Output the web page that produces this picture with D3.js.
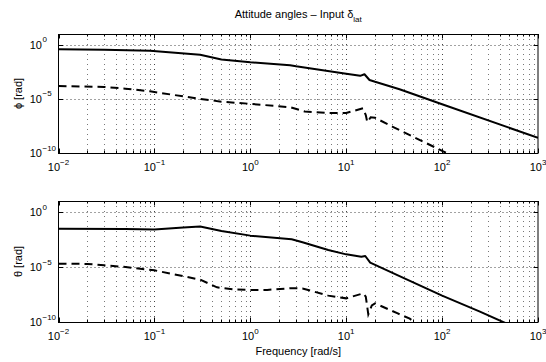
<!DOCTYPE html>
<html>
<head>
<meta charset="utf-8">
<script src="https://cdn.jsdelivr.net/npm/d3@7"></script>
<style>
  body { margin: 0; background: #fff; }
  svg { display: block; font-family: "Liberation Sans", Arial, sans-serif; }
</style>
</head>
<body>
<div id="chart-container"></div>
<script>
// frequency response data (rad/s -> rad)
const phiSolidFreq = [0.01, 0.03, 0.09, 0.3, 0.5, 1, 2.6, 3, 10, 14, 15.5, 17.5, 20, 36, 100, 1000];
const phiSolidMag = [3.98e-1, 3.55e-1, 2.82e-1, 1.2e-1, 4.47e-2, 2.4e-2, 1.32e-2, 1.05e-2, 2.09e-3, 1.35e-3, 1.91e-3, 5.6e-4, 3.8e-4, 7.9e-5, 3.2e-6, 2.5e-9];

const phiDashFreq = [0.01, 0.03, 0.05, 0.09, 0.3, 0.5, 1, 2.6, 3.7, 6.5, 10, 15, 16, 16.6, 18, 20, 31, 100, 130];
const phiDashMag = [1.58e-4, 1.26e-4, 8.9e-5, 5.0e-5, 1.0e-5, 5.6e-6, 3.5e-6, 1.7e-6, 6.8e-7, 5.0e-7, 5.0e-7, 1.38e-6, 3.2e-7, 7.1e-8, 2.0e-7, 1.78e-7, 2.5e-8, 1.58e-10, 5.0e-11];

const thetaSolidFreq = [0.01, 0.05, 0.1, 0.2, 0.3, 0.5, 1, 2.7, 3.5, 6.5, 10, 14.4, 15.8, 17.8, 36, 100, 248, 460];
const thetaSolidMag = [3.0e-2, 2.8e-2, 2.6e-2, 3.8e-2, 4.8e-2, 1.9e-2, 7.1e-3, 3.3e-3, 1.78e-3, 3.5e-4, 1.41e-4, 8.7e-5, 1.0e-4, 2.5e-5, 1.5e-6, 2.5e-8, 8.7e-10, 7.9e-11];

const thetaDashFreq = [0.01, 0.02, 0.03, 0.05, 0.1, 0.3, 0.45, 0.7, 1, 1.5, 2.7, 3.5, 6.5, 10, 15, 16, 17, 18.5, 20, 34, 46, 55];
const thetaDashMag = [2.0e-5, 1.9e-5, 1.41e-5, 1.0e-5, 5.0e-6, 7.1e-7, 1.41e-7, 8.9e-8, 8.3e-8, 8.3e-8, 1.2e-7, 1.12e-7, 2.5e-8, 1.41e-8, 4.0e-8, 2.0e-8, 5.0e-10, 3.2e-9, 5.0e-9, 6.3e-10, 2.0e-10, 6.3e-11];

const xTickExp = [-2, -1, 0, 1, 2, 3];
const yTickExp = [-10, -5, 0];

const W = 546, H = 362;
const xLeft = 58.5, xRight = 538;

const svg = d3.select("#chart-container")
  .append("svg")
  .attr("width", W)
  .attr("height", H);

const x = d3.scaleLog().domain([1e-2, 1e3]).range([xLeft, xRight]);

// minor grid positions 2..9 per decade
const minorX = [];
for (let e = -2; e < 3; e++) {
  for (let m = 2; m <= 9; m++) minorX.push(m * Math.pow(10, e));
}

const zip = (f, m) => f.map((d, i) => ({ f: d, m: m[i] }));

const panels = [
  { id: "p1", top: 34, bottom: 153, label: "\u03D5 [rad]",
    solid: zip(phiSolidFreq, phiSolidMag), dash: zip(phiDashFreq, phiDashMag) },
  { id: "p2", top: 201, bottom: 322, label: "\u03B8 [rad]",
    solid: zip(thetaSolidFreq, thetaSolidMag), dash: zip(thetaDashFreq, thetaDashMag) },
];

const defs = svg.append("defs");

panels.forEach((p) => {
  const y = d3.scaleLog().domain([1e-10, 1e1]).range([p.bottom, p.top]);
  const g = svg.append("g");

  defs.append("clipPath").attr("id", "clip-" + p.id)
    .append("rect")
    .attr("x", xLeft).attr("y", p.top)
    .attr("width", xRight - xLeft).attr("height", p.bottom - p.top);

  // dotted grid
  g.selectAll(".gx-minor").data(minorX).enter().append("line")
    .attr("x1", (d) => Math.round(x(d)) + 0.5).attr("x2", (d) => Math.round(x(d)) + 0.5)
    .attr("y1", p.top).attr("y2", p.bottom)
    .attr("stroke", "#777").attr("stroke-width", 1)
    .attr("stroke-dasharray", "1,4");

  g.selectAll(".gx-major").data(xTickExp.slice(1, -1)).enter().append("line")
    .attr("x1", (d) => Math.round(x(Math.pow(10, d))) + 0.5)
    .attr("x2", (d) => Math.round(x(Math.pow(10, d))) + 0.5)
    .attr("y1", p.top).attr("y2", p.bottom)
    .attr("stroke", "#444").attr("stroke-width", 1)
    .attr("stroke-dasharray", "1,4");

  g.selectAll(".gy").data(yTickExp.slice(1)).enter().append("line")
    .attr("x1", xLeft).attr("x2", xRight)
    .attr("y1", (d) => Math.round(y(Math.pow(10, d))) + 0.5)
    .attr("y2", (d) => Math.round(y(Math.pow(10, d))) + 0.5)
    .attr("stroke", "#444").attr("stroke-width", 1)
    .attr("stroke-dasharray", "1,3");

  // tick marks, inside on all four sides
  const tickG = g.append("g").attr("stroke", "#000").attr("stroke-width", 1);
  minorX.forEach((d) => {
    const xp = Math.round(x(d)) + 0.5;
    tickG.append("line").attr("x1", xp).attr("x2", xp).attr("y1", p.top).attr("y2", p.top + 2.5);
    tickG.append("line").attr("x1", xp).attr("x2", xp).attr("y1", p.bottom).attr("y2", p.bottom - 2.5);
  });
  xTickExp.forEach((d) => {
    const xp = Math.round(x(Math.pow(10, d))) + 0.5;
    tickG.append("line").attr("x1", xp).attr("x2", xp).attr("y1", p.top).attr("y2", p.top + 4.5);
    tickG.append("line").attr("x1", xp).attr("x2", xp).attr("y1", p.bottom).attr("y2", p.bottom - 4.5);
  });
  yTickExp.forEach((d) => {
    const yp = Math.round(y(Math.pow(10, d))) + 0.5;
    tickG.append("line").attr("x1", xLeft).attr("x2", xLeft + 4.5).attr("y1", yp).attr("y2", yp);
    tickG.append("line").attr("x1", xRight).attr("x2", xRight - 4.5).attr("y1", yp).attr("y2", yp);
  });

  // curves
  const line = d3.line()
    .x((d) => x(d.f))
    .y((d) => y(d.m));

  const curves = g.append("g").attr("clip-path", `url(#clip-${p.id})`);
  curves.append("path")
    .datum(p.solid)
    .attr("fill", "none")
    .attr("stroke", "#000")
    .attr("stroke-width", 2)
    .attr("stroke-linejoin", "round")
    .attr("d", line);
  curves.append("path")
    .datum(p.dash)
    .attr("fill", "none")
    .attr("stroke", "#000")
    .attr("stroke-width", 2)
    .attr("stroke-dasharray", "8,5")
    .attr("d", line);

  // axes box
  g.append("rect")
    .attr("x", xLeft).attr("y", p.top + 0.5)
    .attr("width", xRight - xLeft).attr("height", p.bottom - p.top)
    .attr("fill", "none")
    .attr("stroke", "#000")
    .attr("stroke-width", 1);

  // x tick labels
  xTickExp.forEach((d) => {
    const t = g.append("text")
      .attr("x", x(Math.pow(10, d)))
      .attr("y", p.bottom + 17.5)
      .attr("text-anchor", "middle")
      .style("font-size", "11px")
      .text("10");
    t.append("tspan")
      .attr("dy", -6)
      .style("font-size", "8px")
      .text(d < 0 ? "\u2212" + Math.abs(d) : String(d));
  });

  // y tick labels: base right-aligned, exponent trailing
  yTickExp.forEach((d) => {
    const yp = y(Math.pow(10, d));
    g.append("text")
      .attr("x", 42)
      .attr("y", yp + 4)
      .attr("text-anchor", "end")
      .style("font-size", "11px")
      .text("10");
    g.append("text")
      .attr("x", 42.5)
      .attr("y", yp - 2.5)
      .style("font-size", "8px")
      .text(d < 0 ? "\u2212" + Math.abs(d) : String(d));
  });

  // y label
  g.append("text")
    .attr("transform", `translate(22, ${(p.top + p.bottom) / 2}) rotate(-90)`)
    .attr("text-anchor", "middle")
    .style("font-size", "11px")
    .text(p.label);
});

// title
const title = svg.append("text")
  .attr("x", (xLeft + xRight) / 2)
  .attr("y", 18)
  .attr("text-anchor", "middle")
  .style("font-size", "11px")
  .text("Attitude angles \u2013 Input \u03B4");
title.append("tspan")
  .attr("dy", 3.5)
  .style("font-size", "8px")
  .text("lat");

// x label
svg.append("text")
  .attr("x", (xLeft + xRight) / 2)
  .attr("y", 355)
  .attr("text-anchor", "middle")
  .style("font-size", "11px")
  .text("Frequency [rad/s]");
</script>
</body>
</html>
